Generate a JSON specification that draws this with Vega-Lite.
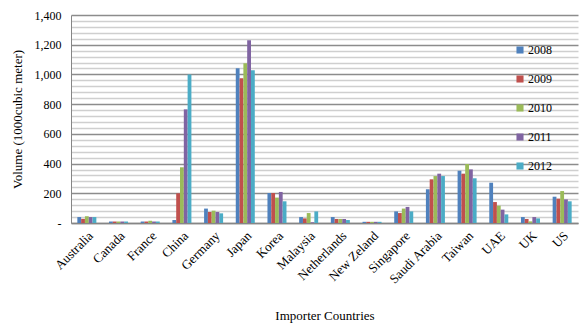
{
  "$schema": "https://vega.github.io/schema/vega-lite/v6.json",
  "width": 507,
  "height": 208,
  "autosize": "none",
  "padding": {"left": 71, "top": 15, "right": 1, "bottom": 101},
  "background": "white",
  "config": {
    "font": "Liberation Serif",
    "view": {"stroke": null},
    "axis": {"labelFont": "Liberation Serif", "titleFont": "Liberation Serif", "titleFontWeight": "normal", "labelColor": "#000", "titleColor": "#000"}
  },
  "data": {"values": [
    {"c":"Australia","y":"2008","v":40},{"c":"Australia","y":"2009","v":28},{"c":"Australia","y":"2010","v":45},{"c":"Australia","y":"2011","v":40},{"c":"Australia","y":"2012","v":40},
    {"c":"Canada","y":"2008","v":10},{"c":"Canada","y":"2009","v":10},{"c":"Canada","y":"2010","v":10},{"c":"Canada","y":"2011","v":10},{"c":"Canada","y":"2012","v":10},
    {"c":"France","y":"2008","v":10},{"c":"France","y":"2009","v":10},{"c":"France","y":"2010","v":15},{"c":"France","y":"2011","v":10},{"c":"France","y":"2012","v":10},
    {"c":"China","y":"2008","v":20},{"c":"China","y":"2009","v":200},{"c":"China","y":"2010","v":375},{"c":"China","y":"2011","v":765},{"c":"China","y":"2012","v":1000},
    {"c":"Germany","y":"2008","v":97},{"c":"Germany","y":"2009","v":74},{"c":"Germany","y":"2010","v":83},{"c":"Germany","y":"2011","v":74},{"c":"Germany","y":"2012","v":65},
    {"c":"Japan","y":"2008","v":1041},{"c":"Japan","y":"2009","v":974},{"c":"Japan","y":"2010","v":1075},{"c":"Japan","y":"2011","v":1230},{"c":"Japan","y":"2012","v":1028},
    {"c":"Korea","y":"2008","v":202},{"c":"Korea","y":"2009","v":202},{"c":"Korea","y":"2010","v":171},{"c":"Korea","y":"2011","v":209},{"c":"Korea","y":"2012","v":146},
    {"c":"Malaysia","y":"2008","v":40},{"c":"Malaysia","y":"2009","v":31},{"c":"Malaysia","y":"2010","v":67},{"c":"Malaysia","y":"2011","v":5},{"c":"Malaysia","y":"2012","v":78},
    {"c":"Netherlands","y":"2008","v":40},{"c":"Netherlands","y":"2009","v":27},{"c":"Netherlands","y":"2010","v":27},{"c":"Netherlands","y":"2011","v":27},{"c":"Netherlands","y":"2012","v":20},
    {"c":"New Zeland","y":"2008","v":8},{"c":"New Zeland","y":"2009","v":8},{"c":"New Zeland","y":"2010","v":8},{"c":"New Zeland","y":"2011","v":8},{"c":"New Zeland","y":"2012","v":8},
    {"c":"Singapore","y":"2008","v":78},{"c":"Singapore","y":"2009","v":67},{"c":"Singapore","y":"2010","v":97},{"c":"Singapore","y":"2011","v":108},{"c":"Singapore","y":"2012","v":78},
    {"c":"Saudi Arabia","y":"2008","v":227},{"c":"Saudi Arabia","y":"2009","v":294},{"c":"Saudi Arabia","y":"2010","v":316},{"c":"Saudi Arabia","y":"2011","v":332},{"c":"Saudi Arabia","y":"2012","v":316},
    {"c":"Taiwan","y":"2008","v":352},{"c":"Taiwan","y":"2009","v":332},{"c":"Taiwan","y":"2010","v":397},{"c":"Taiwan","y":"2011","v":361},{"c":"Taiwan","y":"2012","v":301},
    {"c":"UAE","y":"2008","v":271},{"c":"UAE","y":"2009","v":141},{"c":"UAE","y":"2010","v":117},{"c":"UAE","y":"2011","v":90},{"c":"UAE","y":"2012","v":58},
    {"c":"UK","y":"2008","v":40},{"c":"UK","y":"2009","v":27},{"c":"UK","y":"2010","v":11},{"c":"UK","y":"2011","v":40},{"c":"UK","y":"2012","v":31},
    {"c":"US","y":"2008","v":177},{"c":"US","y":"2009","v":164},{"c":"US","y":"2010","v":215},{"c":"US","y":"2011","v":159},{"c":"US","y":"2012","v":146}
  ]},
  "mark": {"type": "bar"},
  "encoding": {
    "x": {
      "field": "c", "type": "nominal", "sort": null,
      "scale": {"paddingInner": 0.4, "paddingOuter": 0.2},
      "axis": {
        "title": "Importer Countries", "titleFontSize": 13, "titlePadding": 23,
        "labelAngle": -45, "labelFontSize": 13, "labelPadding": 6,
        "ticks": false, "domainColor": "#868686", "domainWidth": 1.5
      }
    },
    "xOffset": {"field": "y", "type": "nominal"},
    "y": {
      "field": "v", "type": "quantitative",
      "scale": {"domain": [0, 1400], "nice": false},
      "axis": {
        "title": "Volume (1000cubic meter)", "titleFontSize": 13, "titlePadding": 10,
        "values": [0,40,80,120,160,200,240,280,320,360,400,440,480,520,560,600,640,680,720,760,800,840,880,920,960,1000,1040,1080,1120,1160,1200,1240,1280,1320,1360,1400],
        "labelExpr": "datum.value == 0 ? '-' : (datum.value % 200 == 0 ? format(datum.value, ',') : '')",
        "labelFontSize": 12, "labelPadding": 10, "ticks": false,
        "domainColor": "#868686",
        "gridColor": {"condition": {"test": "datum.value % 200 == 0", "value": "#8c8c8c"}, "value": "#cfcfcf"},
        "gridWidth": 1.5
      }
    },
    "color": {
      "field": "y", "type": "nominal",
      "scale": {"range": ["#4F81BD", "#C0504D", "#9BBB59", "#8064A2", "#4BACC6"]},
      "legend": {
        "title": null, "orient": "none", "legendX": 443, "legendY": 29,
        "symbolType": "square", "symbolSize": 50, "symbolStrokeWidth": 0,
        "labelFontSize": 12, "labelFont": "Liberation Serif", "labelColor": "#000",
        "rowPadding": 17, "labelOffset": 2
      }
    }
  }
}
